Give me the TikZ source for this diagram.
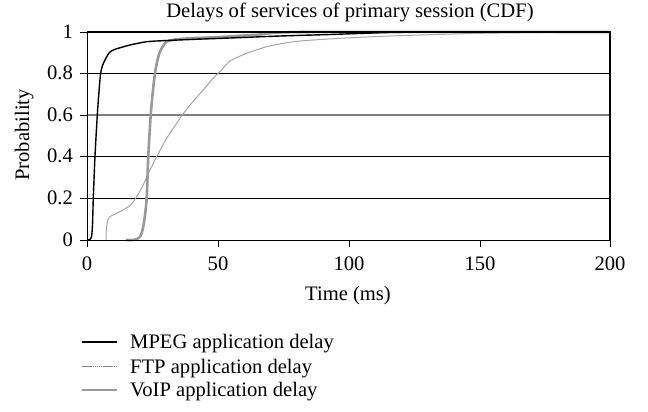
\documentclass[tikz,border=0pt]{standalone}
\usepackage{fontspec}
\setmainfont{Liberation Serif}
\begin{document}
\begin{tikzpicture}[x=1pt,y=-1pt,
  lbl/.style={font=\fontsize{20.6}{22}\selectfont, inner sep=0pt},
  grid/.style={black, line width=0.9pt},
  midgrid/.style={gray, line width=1.5pt},
  tickmark/.style={black, line width=0.9pt},
  mpeg/.style={black, line width=1.4pt, line join=round},
  ftp/.style={black!35, line width=1pt, line join=round},
  voip/.style={black!40, line width=2.6pt, line join=round},
]
\useasboundingbox (0,0) rectangle (648,412);

% horizontal grid lines
\foreach \gy in {73,156,198} \draw[grid] (87,\gy) -- (610,\gy);
\draw[midgrid] (87,115) -- (610,115);

% axis ticks
\foreach \gy in {32,73,115,156,198,240} \draw[tickmark] (80,\gy) -- (87,\gy);
\foreach \gx in {87,218,349,480,610} \draw[tickmark] (\gx,240) -- (\gx,247);

% y tick labels
\foreach \gy/\t in {32/1,73/0.8,115/0.6,156/0.4,198/0.2,240/0}
  \node[lbl, anchor=base east] at (73,\gy+6.5) {\t};
% x tick labels
\foreach \gx/\t in {87/0,218/50,349/100,480/150,610/200}
  \node[lbl, anchor=base] at (\gx,270) {\t};

% FTP delay CDF
\draw[ftp] plot[smooth, tension=0.4] coordinates {
  (106,240) (106.3,230) (107.5,221) (110,216.7) (116.7,213.3) (123,210)
  (131.7,204) (141.7,188) (150,170) (156.7,156.7) (166.7,138.3) (180,118.3)
  (190,105) (203.3,90) (213.3,78) (220,71.7) (230,61) (246.7,53.3)
  (266.7,46.7) (283.3,43.3) (300,41) (340,38.3) (390,36) (480,33.3)
  (563,32.3) (610,32)};

% VoIP delay CDF
\draw[voip] plot[smooth, tension=0.4] coordinates {
  (126,240) (132,240) (137,239) (140.5,236) (143,228) (145,215) (146.7,198)
  (148.3,156) (150.7,115) (153,90) (155,73) (157.5,60) (160,51.7) (163,46)
  (166.7,41.7) (175,39.5) (190,38.3) (220,37) (260,34.5) (303,32) (610,32)};

% MPEG delay CDF
\draw[mpeg] plot[smooth, tension=0.4] coordinates {
  (87,240) (90,239.5) (91.5,237) (92.5,225) (93.3,198) (95,156) (97.3,115)
  (99.5,85) (100.7,73) (102.7,65) (106.7,56.7) (110,52) (115,49.3) (130,45)
  (146.7,41.7) (163,40.7) (190,39.5) (230,38) (280,36) (330,34.5)
  (390,32.5) (450,32) (610,32)};

% plot frame
\draw[black, line width=1.2pt] (87,32) -- (610,32) -- (610,240);
\draw[grid] (87,240) -- (610,240);
\draw[grid] (87,32) -- (87,240);

% titles
\node[lbl, anchor=base] at (350,18) {Delays of services of primary session (CDF)};
\node[lbl, anchor=base] at (348,300) {Time (ms)};
\node[lbl, rotate=90, anchor=base] at (29,135) {Probability};

% legend
\draw[mpeg] (82,342) -- (117,342);
\node[lbl, anchor=base west] at (130,348.5) {MPEG application delay};
\draw[black!50, line width=1.1pt, dash pattern=on 1.5pt off 0.6pt] (82,366.5) -- (117,366.5);
\node[lbl, anchor=base west] at (130,373) {FTP application delay};
\draw[voip, line width=2.4pt] (82,390) -- (117,390);
\node[lbl, anchor=base west] at (130,396.5) {VoIP application delay};
\end{tikzpicture}
\end{document}
